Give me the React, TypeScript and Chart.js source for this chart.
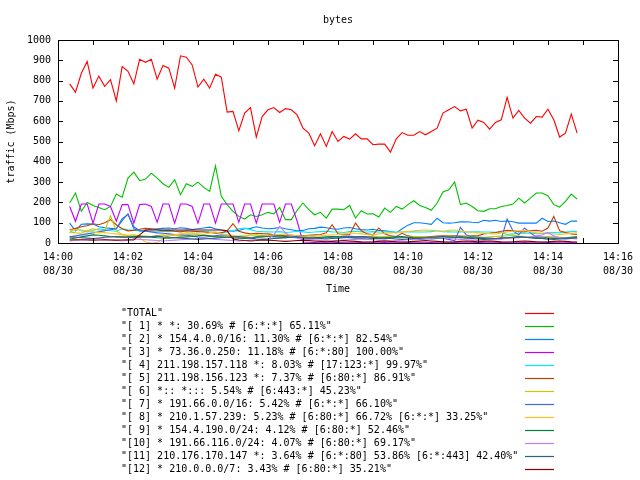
import React, { useEffect, useRef } from "react";
import { Chart, registerables } from "chart.js";

Chart.register(...registerables);

// ---- data ----
const TITLE = "bytes";
const Y_TITLE = "traffic (Mbps)";
const X_TITLE = "Time";
const X_TICK_LABELS = ["14:00", "14:02", "14:04", "14:06", "14:08", "14:10", "14:12", "14:14", "14:16"];
const X_DATE_LABEL = "08/30";
const X_MAX_SEC = 960;
const X_LABEL_STEP_SEC = 120;
const X_MINOR_STEP_SEC = 60;
const SAMPLE_START_SEC = 20;
const SAMPLE_STEP_SEC = 10;

const LABELS = [
  '"TOTAL"',
  '"[ 1] * *: 30.69% # [6:*:*] 65.11%"',
  '"[ 2] * 154.4.0.0/16: 11.30% # [6:*:*] 82.54%"',
  '"[ 3] * 73.36.0.250: 11.18% # [6:*:80] 100.00%"',
  '"[ 4] 211.198.157.118 *: 8.03% # [17:123:*] 99.97%"',
  '"[ 5] 211.198.156.123 *: 7.37% # [6:80:*] 86.91%"',
  '"[ 6] *:: *::: 5.54% # [6:443:*] 45.23%"',
  '"[ 7] * 191.66.0.0/16: 5.42% # [6:*:*] 66.10%"',
  '"[ 8] * 210.1.57.239: 5.23% # [6:80:*] 66.72% [6:*:*] 33.25%"',
  '"[ 9] * 154.4.190.0/24: 4.12% # [6:80:*] 52.46%"',
  '"[10] * 191.66.116.0/24: 4.07% # [6:80:*] 69.17%"',
  '"[11] 210.176.170.147 *: 3.64% # [6:*:80] 53.86% [6:*:443] 42.40%"',
  '"[12] * 210.0.0.0/7: 3.43% # [6:80:*] 35.21%"',
];

const COLORS = [
  "#ff0000", "#00c000", "#0080ff", "#c000ff", "#00eeee", "#c04000",
  "#c8c800", "#4169e1", "#ffc020", "#008040", "#c080ff", "#306080", "#8b0000",
];

const TOTAL = [
  784, 743, 836, 894, 763, 822, 772, 805, 700, 869, 846, 784, 905, 890, 905, 807, 874,
  861, 763, 922, 915, 877, 768, 807, 763, 831, 817, 645, 648, 553, 640, 667, 522, 623, 656,
  667, 643, 662, 656, 631, 566, 541, 479, 538, 476, 549, 500, 525, 512, 538, 513, 513, 484,
  487, 487, 448, 513, 544, 531, 531, 549, 533, 549, 566, 640, 656, 672, 651, 659, 566, 605,
  594, 561, 594, 607, 718, 615, 653, 615, 590, 623, 620, 659, 607, 522, 541, 635, 541,
];
const S1 = [
  197, 246, 156, 200, 185, 175, 164, 180, 241, 226, 320, 349, 307, 315, 344, 320, 292,
  274, 312, 238, 292, 279, 300, 274, 254, 380, 230, 189, 156, 131, 118, 139, 131, 139, 151,
  143, 175, 115, 115, 161, 197, 164, 139, 151, 123, 167, 167, 164, 185, 123, 159, 143, 144,
  128, 172, 151, 180, 167, 189, 208, 185, 175, 161, 197, 251, 262, 300, 189, 197, 180, 159,
  156, 169, 169, 180, 185, 192, 221, 197, 221, 246, 246, 233, 189, 177, 205, 241, 216,
];
const S2 = [
  98, 60, 92, 94, 93, 80, 75, 72, 70, 110, 144, 70, 60, 62, 68, 70, 72,
  74, 70, 75, 72, 66, 70, 74, 78, 70, 64, 60, 58, 62, 70, 72, 80, 74, 70,
  72, 76, 70, 65, 60, 62, 70, 72, 78, 75, 70, 68, 74, 76, 70, 66, 64, 68,
  62, 60, 56, 50, 70, 88, 100, 100, 96, 92, 122, 100, 98, 100, 104, 105, 102, 100,
  112, 108, 112, 106, 108, 105, 98, 98, 98, 98, 122, 106, 108, 100, 92, 108, 108,
];
const S3 = [
  180, 107, 192, 192, 98, 192, 192, 180, 107, 189, 189, 98, 189, 192, 180, 103, 192,
  192, 98, 192, 192, 180, 98, 192, 192, 98, 192, 192, 192, 102, 192, 192, 98, 192, 192,
  192, 102, 192, 192, 107, 5, 4, 3, 4, 5, 4, 3, 4, 5, 4, 3, 4, 5,
  4, 3, 4, 5, 4, 3, 4, 5, 4, 3, 4, 5, 4, 3, 4, 5, 4, 3,
  4, 5, 4, 3, 4, 5, 4, 3, 4, 5, 4, 3, 4, 5, 4, 3, 4,
];
const S4 = [
  50, 72, 60, 55, 62, 70, 66, 60, 58, 70, 65, 62, 60, 58, 56, 55, 58,
  56, 58, 60, 55, 54, 56, 58, 55, 52, 50, 54, 60, 70, 74, 66, 58, 56, 55,
  54, 56, 52, 54, 58, 55, 52, 54, 56, 58, 55, 54, 52, 56, 58, 55, 54, 56,
  54, 55, 55, 54, 54, 55, 55, 54, 54, 56, 60, 56, 55, 54, 55, 54, 55, 55,
  54, 54, 53, 52, 42, 45, 48, 48, 50, 46, 48, 50, 52, 50, 54, 56, 58,
];
const S5 = [
  65, 72, 80, 85, 95, 90, 100, 115, 90, 70, 60, 62, 68, 72, 70, 65, 60,
  62, 58, 55, 60, 58, 56, 54, 52, 48, 50, 60, 95, 58, 50, 45, 48, 46, 45,
  40, 38, 36, 35, 34, 36, 38, 40, 42, 50, 90, 45, 40, 42, 98, 60, 45, 40,
  74, 45, 35, 32, 48, 35, 30, 28, 30, 32, 34, 35, 36, 35, 34, 33, 35, 36,
  45, 48, 52, 58, 62, 60, 56, 55, 60, 62, 58, 74, 131, 60, 52, 45, 42,
];
const S6 = [
  55, 50, 48, 60, 70, 64, 60, 134, 58, 42, 38, 40, 36, 34, 32, 36, 40,
  38, 36, 34, 40, 44, 42, 38, 35, 30, 28, 30, 32, 34, 36, 38, 40, 38, 36,
  34, 32, 30, 28, 30, 34, 36, 30, 28, 26, 30, 32, 34, 30, 28, 30, 32, 34,
  30, 32, 30, 28, 26, 28, 30, 32, 30, 28, 30, 32, 34, 30, 28, 30, 32, 30,
  28, 30, 32, 34, 36, 38, 34, 32, 30, 28, 30, 32, 30, 28, 26, 28, 30,
];
const S7 = [
  30, 35, 40, 45, 50, 55, 60, 65, 70, 120, 140, 80, 60, 58, 55, 50, 48,
  45, 42, 40, 38, 35, 30, 28, 32, 36, 40, 38, 34, 30, 28, 26, 30, 34, 32,
  30, 28, 26, 30, 34, 32, 30, 28, 26, 25, 28, 30, 32, 34, 30, 28, 26, 24,
  22, 20, 24, 28, 30, 26, 22, 18, 20, 24, 26, 22, 18, 11, 77, 40, 30, 28,
  26, 24, 22, 20, 118, 60, 40, 74, 50, 30, 28, 26, 24, 22, 20, 22, 24,
];
const S8 = [
  62, 66, 64, 60, 55, 50, 52, 48, 45, 40, 35, 30, 25, 5, 0, 2, 20,
  35, 40, 45, 50, 48, 45, 42, 50, 55, 45, 40, 35, 30, 32, 28, 25, 30, 35,
  40, 42, 45, 40, 35, 30, 32, 34, 36, 38, 40, 42, 45, 50, 48, 45, 42, 40,
  45, 48, 50, 52, 55, 58, 60, 62, 64, 62, 60, 58, 62, 64, 60, 55, 52, 50,
  48, 46, 44, 50, 55, 58, 60, 62, 55, 50, 48, 46, 44, 42, 45, 48, 50,
];
const S9 = [
  20, 25, 30, 35, 40, 38, 35, 32, 30, 28, 30, 32, 34, 30, 28, 26, 25,
  24, 26, 28, 30, 32, 36, 38, 35, 32, 30, 28, 26, 24, 22, 25, 28, 30, 32,
  34, 36, 32, 28, 26, 24, 22, 25, 28, 30, 32, 30, 28, 26, 24, 22, 20, 22,
  24, 26, 28, 30, 32, 28, 26, 24, 22, 20, 22, 24, 26, 28, 30, 28, 26, 24,
  22, 20, 22, 24, 26, 28, 30, 28, 26, 24, 22, 20, 22, 24, 26, 28, 30,
];
const S10 = [
  10, 12, 15, 18, 20, 22, 18, 15, 12, 10, 15, 20, 18, 16, 14, 12, 10,
  12, 14, 16, 18, 20, 22, 24, 20, 18, 16, 14, 12, 10, 12, 14, 16, 18, 20,
  40, 82, 50, 30, 25, 20, 18, 16, 14, 12, 10, 12, 14, 16, 18, 20, 18, 16,
  14, 12, 10, 12, 14, 16, 18, 20, 22, 24, 26, 24, 22, 20, 18, 16, 14, 12,
  14, 16, 18, 20, 22, 24, 26, 28, 30, 35, 40, 52, 35, 26, 24, 22, 20,
];
const S11 = [
  30, 28, 26, 24, 22, 25, 28, 30, 32, 30, 28, 26, 28, 30, 32, 34, 30,
  28, 26, 24, 22, 20, 18, 20, 22, 24, 26, 28, 30, 32, 28, 24, 20, 18, 20,
  22, 24, 26, 28, 30, 28, 26, 24, 22, 20, 22, 24, 26, 28, 30, 32, 30, 28,
  26, 24, 22, 20, 18, 20, 22, 24, 26, 28, 30, 32, 30, 28, 26, 24, 22, 20,
  18, 20, 22, 24, 26, 28, 30, 28, 26, 24, 22, 20, 18, 20, 22, 24, 26,
];
const S12 = [
  15, 16, 16, 15, 14, 15, 16, 15, 14, 15, 16, 15, 40, 64, 64, 64, 64,
  64, 64, 64, 64, 64, 64, 64, 64, 64, 64, 60, 20, 15, 12, 10, 12, 15, 14,
  12, 10, 8, 10, 12, 14, 12, 10, 8, 6, 8, 10, 12, 10, 8, 6, 5, 6,
  8, 10, 8, 6, 5, 6, 8, 10, 12, 10, 8, 6, 5, 6, 8, 10, 8, 6,
  8, 10, 8, 6, 5, 6, 8, 10, 8, 6, 5, 6, 8, 10, 8, 6, 5,
];

const SERIES = [TOTAL, S1, S2, S3, S4, S5, S6, S7, S8, S9, S10, S11, S12];

const FONT_FAMILY = '"DejaVu Sans Mono", "Liberation Mono", monospace';

const gnuplotDecor = {
  id: "gnuplotDecor",
  afterDraw(chart: any) {
    const ctx = chart.ctx;
    const { left, right, top, bottom } = chart.chartArea;
    const xs = chart.scales.x;
    const ys = chart.scales.y;
    ctx.save();
    ctx.strokeStyle = "#000";
    ctx.lineWidth = 1;
    // border
    ctx.strokeRect(Math.round(left) + 0.5, Math.round(top) + 0.5, Math.round(right - left), Math.round(bottom - top));
    ctx.beginPath();
    // y ticks (inward, both sides)
    ys.ticks.forEach((t: any) => {
      const y = Math.round(ys.getPixelForValue(t.value)) + 0.5;
      ctx.moveTo(left, y);
      ctx.lineTo(left + 5, y);
      ctx.moveTo(right - 5, y);
      ctx.lineTo(right, y);
    });
    // x ticks every minute (inward, top and bottom)
    for (let s = 0; s <= X_MAX_SEC; s += X_MINOR_STEP_SEC) {
      const x = Math.round(xs.getPixelForValue(s)) + 0.5;
      ctx.moveTo(x, bottom);
      ctx.lineTo(x, bottom - 5);
      ctx.moveTo(x, top);
      ctx.lineTo(x, top + 5);
    }
    ctx.stroke();

    // title
    ctx.fillStyle = "#000";
    ctx.font = `10px ${FONT_FAMILY}`;
    ctx.textAlign = "center";
    ctx.textBaseline = "middle";
    ctx.fillText(TITLE, (left + right) / 2, 20);

    // legend
    ctx.textAlign = "left";
    chart.data.datasets.forEach((ds: any, i: number) => {
      const y = 313 + 13 * i;
      ctx.fillStyle = "#000";
      ctx.fillText(ds.label, 121, y);
      ctx.lineWidth = 1.2;
      ctx.strokeStyle = COLORS[i];
      ctx.beginPath();
      ctx.moveTo(525, y + 0.5);
      ctx.lineTo(554, y + 0.5);
      ctx.stroke();
    });
    ctx.restore();
  },
};

export default function App() {
  const canvasRef = useRef<HTMLCanvasElement | null>(null);

  useEffect(() => {
    if (!canvasRef.current) return;
    const datasets = SERIES.map((vals, i) => ({
      label: LABELS[i],
      data: vals.map((v, k) => ({ x: SAMPLE_START_SEC + SAMPLE_STEP_SEC * k, y: v })),
      borderColor: COLORS[i],
      backgroundColor: COLORS[i],
      borderWidth: 1.1,
      pointRadius: 0,
      tension: 0,
      fill: false,
      order: SERIES.length - 1 - i,
    }));
    const chart = new Chart(canvasRef.current, {
      type: "line",
      data: { datasets },
      options: {
        animation: false,
        responsive: false,
        devicePixelRatio: 1,
        color: "#000",
        layout: { padding: { left: 0, top: 40, right: 18, bottom: 185 } },
        plugins: {
          legend: { display: false },
          title: { display: false },
          tooltip: { enabled: false },
        },
        scales: {
          x: {
            type: "linear",
            min: 0,
            max: X_MAX_SEC,
            grid: { display: false, drawTicks: false },
            border: { display: false },
            ticks: {
              stepSize: X_LABEL_STEP_SEC,
              autoSkip: false,
              maxRotation: 0,
              padding: 7,
              color: "#000",
              font: { family: FONT_FAMILY, size: 10, lineHeight: 1.4 },
              callback: (v: any) => {
                const idx = Math.round(Number(v) / X_LABEL_STEP_SEC);
                return [X_TICK_LABELS[idx], X_DATE_LABEL];
              },
            },
            title: {
              display: true,
              text: X_TITLE,
              color: "#000",
              font: { family: FONT_FAMILY, size: 10 },
              padding: { top: 0, bottom: 0 },
            },
            afterFit: (scale: any) => {
              scale.height = 52;
            },
          },
          y: {
            type: "linear",
            min: 0,
            max: 1000,
            grid: { display: false, drawTicks: false },
            border: { display: false },
            ticks: {
              stepSize: 100,
              padding: 7,
              color: "#000",
              font: { family: FONT_FAMILY, size: 10 },
              callback: (v: any) => String(v),
            },
            title: {
              display: true,
              text: Y_TITLE,
              color: "#000",
              font: { family: FONT_FAMILY, size: 10 },
              padding: { top: 5, bottom: 0 },
            },
            afterFit: (scale: any) => {
              scale.width = 58;
            },
          },
        },
      },
      plugins: [gnuplotDecor],
    });
    return () => chart.destroy();
  }, []);

  return (
    <div style={{ position: "fixed", left: 0, top: 0, width: 640, height: 480, background: "#fff" }}>
      <canvas ref={canvasRef} width={640} height={480} style={{ display: "block" }} />
    </div>
  );
}
